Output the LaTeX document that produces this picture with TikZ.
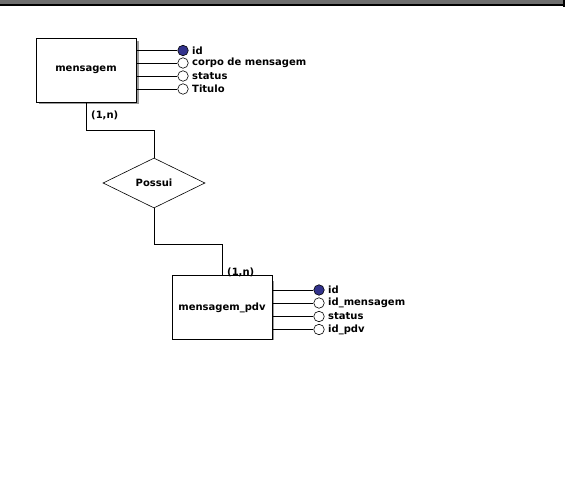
\documentclass[tikz,border=0pt]{standalone}
\usepackage{fontspec}
\setmainfont{DejaVu Sans}
\usetikzlibrary{shapes.geometric}
\definecolor{keyblue}{RGB}{50,50,140}
\definecolor{shadowgray}{RGB}{110,110,110}
\tikzset{
  entity/.style={draw, fill=white, line width=0.8pt, minimum width=100pt, minimum height=64pt, inner sep=0pt, font=\fontsize{10}{12}\selectfont\bfseries},
  relation/.style={draw, fill=white, diamond, line width=0.6pt, minimum width=102pt, minimum height=50pt, inner sep=0pt, font=\fontsize{10}{12}\selectfont\bfseries},
  attr/.style={draw, circle, fill=white, line width=0.6pt, minimum size=10.5pt, inner sep=0pt},
  keyattr/.style={attr, fill=keyblue},
  attrlabel/.style={anchor=west, inner sep=0pt, font=\fontsize{10}{12}\selectfont\bfseries},
  card/.style={inner sep=0pt, font=\fontsize{10}{12}\selectfont\bfseries},
  link/.style={line width=0.7pt}
}
\begin{document}
\begin{tikzpicture}[x=1pt,y=-1pt]
\useasboundingbox (0,0) rectangle (565,482);
\fill[shadowgray] (0,0) rectangle (565,4);
\fill[black] (0,4) rectangle (565,6);
\fill[black] (563,0) rectangle (564.5,7);

% mensagem entity
\fill[shadowgray!70] (38.5,40.5) rectangle (138.5,104);
\node[entity] (m) at (86,70) {mensagem};
% attributes
\node[keyattr] (m1) at (183,50.5) {};
\node[attr] (m2) at (183,63) {};
\node[attr] (m3) at (183,76) {};
\node[attr] (m4) at (183,89) {};
\foreach \i in {1,...,4} \draw[link] (m.east |- m\i) -- (m\i.west);
\node[attrlabel] (t1) at (192,50.5) {id};
\node[attrlabel] (t2) at (192,63) {corpo de mensagem};
\node[attrlabel] (t3) at (192,76) {status};
\node[attrlabel] (t4) at (192,89) {Titulo};

% relation
\node[relation] (r) at (154,183) {Possui};

% mensagem_pdv entity
\fill[shadowgray!70] (173.5,280.5) rectangle (273.5,340);
\node[entity] (p) at (222,307.5) {mensagem\_pdv};
\node[keyattr] (p1) at (319,290) {};
\node[attr] (p2) at (319,303) {};
\node[attr] (p3) at (319,316.5) {};
\node[attr] (p4) at (319,329.5) {};
\foreach \i in {1,...,4} \draw[link] (p.east |- p\i) -- (p\i.west);
\node[attrlabel] (u1) at (328,290) {id};
\node[attrlabel] (u2) at (328,303) {id\_mensagem};
\node[attrlabel] (u3) at (328,316.5) {status};
\node[attrlabel] (u4) at (328,329.5) {id\_pdv};

% connectors
\draw[link] (m.south) -- ++(0,28) -| (r.north);
\draw[link] (r.south) -- ++(0,36) -| (p.north);

% cardinalities
\node[card, anchor=west] (c1) at (91,115) {(1,n)};
\node[card, anchor=west] (c2) at (227,272) {(1,n)};
\end{tikzpicture}
\end{document}
